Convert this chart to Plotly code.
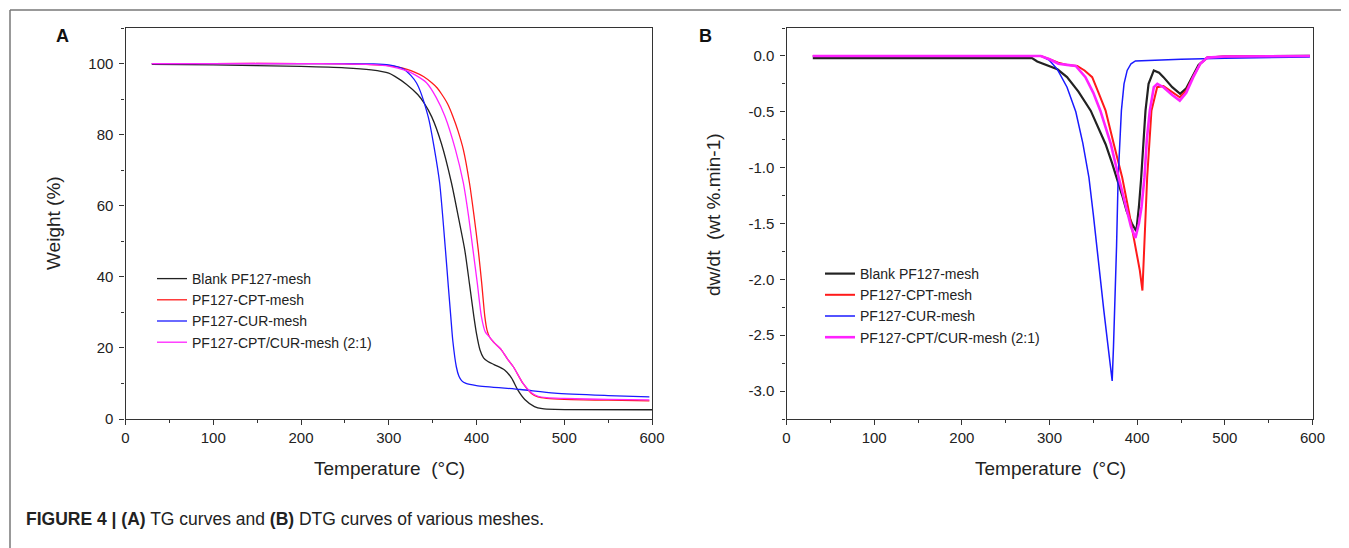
import plotly.graph_objects as go

# ---------------- data ----------------
series_names = ["Blank PF127-mesh", "PF127-CPT-mesh", "PF127-CUR-mesh", "PF127-CPT/CUR-mesh (2:1)"]
series_colors = ["#222222", "#ff1a1a", "#1a1aff", "#ff22ff"]

# TG curves (A): temperature (°C) vs weight (%)
tg_blank_t = [30, 100, 200, 250, 280, 300, 307, 320, 333, 340, 349, 360, 371.5, 380, 386.6, 392, 397, 400, 404, 408, 413, 420, 432, 440, 447, 455, 466, 475, 489, 600]
tg_blank_w = [99.8, 99.6, 99.2, 98.8, 98.2, 97.3, 96.4, 94.2, 91.3, 89.0, 85.0, 77.5, 66.4, 56.0, 47.6, 38.0, 28.8, 24.0, 19.4, 17.2, 16.2, 15.3, 13.8, 11.5, 8.2, 5.5, 3.5, 2.9, 2.7, 2.6]

tg_cpt_t = [30, 100, 200, 250, 280, 300, 311, 320, 330, 340, 349, 355, 360, 367, 373, 379, 385, 392, 397, 402, 406, 409.5, 412, 415, 420, 428.5, 435, 442, 453, 462.6, 470, 480, 500, 550, 597]
tg_cpt_w = [100.0, 100.0, 100.0, 99.9, 99.7, 99.4, 99.0, 98.4, 97.5, 96.3, 94.6, 93.2, 91.5, 88.7, 85.2, 81.0, 75.8, 66.4, 57.5, 47.6, 38.0, 28.8, 25.0, 23.0, 21.5, 19.4, 17.0, 14.7, 10.0, 7.2, 6.2, 5.8, 5.5, 5.3, 5.1]

tg_cur_t = [30, 100, 200, 250, 280, 300, 318, 331.5, 345, 352, 358, 364.6, 368, 370.7, 373, 377, 380, 383, 388, 400, 450, 489, 550, 597]
tg_cur_w = [100.0, 100.0, 100.0, 100.0, 99.9, 99.6, 98.3, 94.6, 85.0, 76.0, 66.4, 47.6, 37.0, 28.8, 22.0, 14.7, 12.0, 10.8, 10.0, 9.4, 8.3, 7.3, 6.6, 6.2]

tg_mix_t = [30, 100, 200, 250, 280, 300, 320, 330, 343, 354, 364, 376, 385, 391, 396, 401, 405.6, 410, 415, 420, 428.5, 435, 442, 453, 462.6, 470, 480, 500, 550, 597]
tg_mix_w = [100.0, 100.0, 100.0, 99.9, 99.7, 99.3, 98.0, 96.8, 94.6, 90.5, 85.2, 75.8, 66.4, 57.0, 47.6, 38.0, 28.8, 24.5, 23.0, 21.5, 19.4, 17.0, 14.7, 10.0, 7.4, 6.4, 6.0, 5.8, 5.5, 5.4]

# DTG curves (B): temperature (°C) vs dw/dt (wt %.min-1)
dtg_blank_t = [30, 100, 200, 280, 286, 300, 309, 320, 333, 347, 355, 364, 371, 377, 383, 388, 394, 399, 402, 404.6, 407, 409.5, 413, 419, 425, 430, 440, 449, 456, 463, 470, 480, 500, 597]
dtg_blank_v = [-0.02, -0.02, -0.02, -0.02, -0.05, -0.09, -0.12, -0.19, -0.32, -0.49, -0.63, -0.79, -0.95, -1.09, -1.25, -1.39, -1.5, -1.57, -1.35, -1.09, -0.8, -0.49, -0.25, -0.13, -0.15, -0.19, -0.28, -0.34, -0.29, -0.19, -0.08, -0.015, -0.005, 0.0]

dtg_cpt_t = [30, 100, 200, 290, 300, 310, 320, 331.6, 340, 348.7, 356, 364, 373.4, 383, 390.5, 398, 403, 406, 408.3, 411.4, 416.3, 422.8, 430, 440, 448.6, 456, 463.5, 472, 480, 500, 597]
dtg_cpt_v = [0.0, 0.0, 0.0, 0.0, -0.03, -0.06, -0.08, -0.09, -0.13, -0.19, -0.33, -0.49, -0.79, -1.09, -1.39, -1.69, -1.92, -2.1, -1.69, -1.09, -0.49, -0.28, -0.27, -0.32, -0.37, -0.31, -0.19, -0.07, -0.015, -0.005, 0.0]

dtg_cur_t = [30, 100, 200, 290, 300, 309, 320, 330, 338, 345, 350, 354, 358, 362, 366.5, 369, 371.5, 373, 374.5, 376.5, 378.3, 380, 382, 385, 388.6, 393, 398, 450, 500, 597]
dtg_cur_v = [0.0, 0.0, 0.0, 0.0, -0.04, -0.12, -0.28, -0.5, -0.78, -1.09, -1.42, -1.72, -2.0, -2.28, -2.58, -2.75, -2.91, -2.6, -2.28, -1.7, -1.09, -0.8, -0.49, -0.25, -0.13, -0.07, -0.045, -0.03, -0.02, -0.01]

dtg_mix_t = [30, 100, 200, 290, 300, 310, 320, 330, 341, 350, 358, 370, 379, 388, 393, 398, 402, 405, 408.3, 411, 414.4, 419, 423, 430, 440, 448.6, 456, 464, 472, 480, 500, 597]
dtg_mix_v = [0.0, 0.0, 0.0, 0.0, -0.03, -0.07, -0.08, -0.09, -0.19, -0.33, -0.49, -0.79, -1.09, -1.39, -1.53, -1.63, -1.5, -1.35, -1.09, -0.75, -0.49, -0.28, -0.25, -0.28, -0.35, -0.4, -0.33, -0.19, -0.07, -0.015, -0.005, 0.0]

x_tick_vals = [0, 100, 200, 300, 400, 500, 600]
tg_tick_vals = [0, 20, 40, 60, 80, 100]
dtg_tick_vals = [0.0, -0.5, -1.0, -1.5, -2.0, -2.5, -3.0]
dtg_tick_text = ["0.0", "-0.5", "-1.0", "-1.5", "-2.0", "-2.5", "-3.0"]

# ---------------- figure ----------------
# the page body has an 8px margin; the figure fills the rest of the 1349x548 window
OFF = 8
W, H = 1349 - OFF, 548 - OFF
FONT = "Liberation Sans Narrow, Arial Narrow, Liberation Sans, Arial, sans-serif"

fig = go.Figure()

tg_sets = [(tg_blank_t, tg_blank_w), (tg_cpt_t, tg_cpt_w), (tg_cur_t, tg_cur_w), (tg_mix_t, tg_mix_w)]
dtg_sets = [(dtg_blank_t, dtg_blank_v), (dtg_cpt_t, dtg_cpt_v), (dtg_cur_t, dtg_cur_v), (dtg_mix_t, dtg_mix_v)]
dtg_widths = [2.2, 2.0, 1.5, 2.6]

for name, col, (t, w) in zip(series_names, series_colors, tg_sets):
    fig.add_trace(go.Scatter(x=t, y=w, mode="lines", name=name,
                             line=dict(color=col, width=1.3, shape="spline", smoothing=0.7),
                             xaxis="x", yaxis="y", legend="legend"))
for name, col, lw, (t, v) in zip(series_names, series_colors, dtg_widths, dtg_sets):
    fig.add_trace(go.Scatter(x=t, y=v, mode="lines", name=name,
                             line=dict(color=col, width=lw, shape="linear"),
                             xaxis="x2", yaxis="y2", legend="legend2"))


def px_x(p):
    return (p - OFF) / W


def px_y(p):
    return 1 - (p - OFF) / H


minor_common = dict(ticks="outside", ticklen=3, tickcolor="#333333")
axis_common = dict(showgrid=False, zeroline=False, showline=True, linecolor="#333333", linewidth=1.2, mirror=True,
                   ticks="outside", ticklen=5, tickcolor="#333333", tickwidth=1, automargin=False,
                   tickfont=dict(family=FONT, size=15, color="#222222"))

ydom = [px_y(419), px_y(28)]

fig.update_layout(
    width=W, height=H,
    template="none",
    paper_bgcolor="white", plot_bgcolor="white",
    margin=dict(l=0, r=0, t=0, b=0, autoexpand=False),
    showlegend=True,
    xaxis=dict(domain=[px_x(125.5), px_x(652)], range=[0, 600], tickvals=x_tick_vals, anchor="y",
               minor=dict(dtick=50, tick0=0, **minor_common), **axis_common),
    yaxis=dict(domain=ydom, range=[0, 110], tickvals=tg_tick_vals, anchor="x", ticklabelstandoff=3,
               minor=dict(dtick=10, tick0=0, **minor_common), **axis_common),
    xaxis2=dict(domain=[px_x(786.5), px_x(1312.5)], range=[0, 600], tickvals=x_tick_vals, anchor="y2",
                minor=dict(dtick=50, tick0=0, **minor_common), **axis_common),
    yaxis2=dict(domain=ydom, range=[-3.25, 0.25], tickvals=dtg_tick_vals, ticktext=dtg_tick_text, anchor="x2",
                ticklabelstandoff=3, minor=dict(dtick=0.25, tick0=0, **minor_common), **axis_common),
    legend=dict(x=px_x(152), y=px_y(263), xanchor="left", yanchor="top", bgcolor="rgba(0,0,0,0)",
                font=dict(family=FONT, size=14, color="#222222"), itemwidth=30, tracegroupgap=0),
    legend2=dict(x=px_x(820), y=px_y(258), xanchor="left", yanchor="top", bgcolor="rgba(0,0,0,0)",
                 font=dict(family=FONT, size=14, color="#222222"), itemwidth=30, tracegroupgap=0),
)

ann_font = dict(family=FONT, size=19, color="#222222")
center = dict(xref="paper", yref="paper", showarrow=False, xanchor="center", yanchor="middle")
annotations = [
    dict(text="Temperature\u00a0 (°C)", x=px_x(389), y=px_y(468), font=ann_font, **center),
    dict(text="Temperature\u00a0 (°C)", x=px_x(1050), y=px_y(468), font=ann_font, **center),
    dict(text="Weight (%)", x=px_x(53), y=px_y(223), font=ann_font, textangle=-90, **center),
    dict(text="dw/dt\u00a0 (wt %.min-1)", x=px_x(714), y=px_y(215), font=ann_font, textangle=-90, **center),
    dict(text="<b>A</b>", x=px_x(62), y=px_y(36),
         font=dict(family="Liberation Sans, Arial, sans-serif", size=18, color="#111111"), **center),
    dict(text="<b>B</b>", x=px_x(705), y=px_y(36),
         font=dict(family="Liberation Sans, Arial, sans-serif", size=18, color="#111111"), **center),
    dict(text="<b>FIGURE 4 | (A)</b> TG curves and <b>(B)</b> DTG curves of various meshes.", x=px_x(24), y=px_y(519),
         xref="paper", yref="paper", xanchor="left", yanchor="middle", showarrow=False,
         font=dict(family=FONT, size=17.5, color="#222222")),
]
fig.update_layout(annotations=annotations)

# outer figure frame (top and left rule)
fig.add_shape(type="line", xref="paper", yref="paper", x0=px_x(10), x1=1, y0=px_y(10), y1=px_y(10),
              line=dict(color="#777777", width=1.5))
fig.add_shape(type="line", xref="paper", yref="paper", x0=px_x(10), x1=px_x(10), y0=px_y(10), y1=0,
              line=dict(color="#777777", width=1.5))

fig.write_html("out.html")
